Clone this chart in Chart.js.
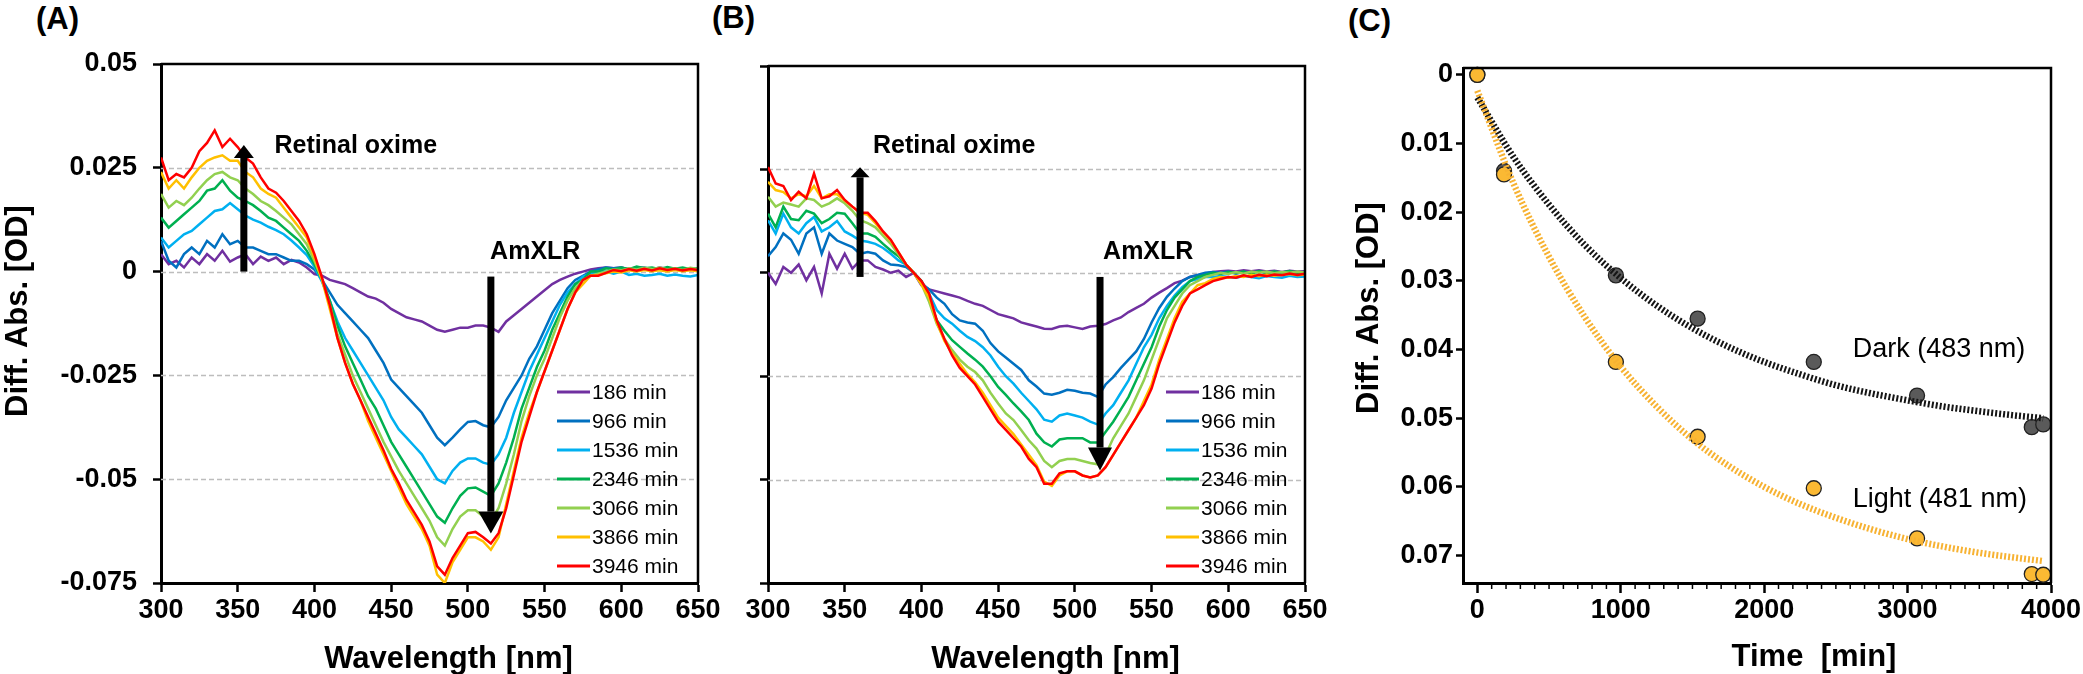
<!DOCTYPE html>
<html>
<head>
<meta charset="utf-8">
<script src="https://cdn.jsdelivr.net/npm/chart.js@4.4.1/dist/chart.umd.min.js"></script>
<style>
  body { margin: 0; background: #fff; width: 2083px; height: 674px; overflow: hidden; position: relative; }
  canvas { position: absolute; top: 0; }
  .tag { position: absolute; font: bold 31px "Liberation Sans", Arial, sans-serif; line-height: 31px; color: #000; }
</style>
</head>
<body>
<div class="tag" style="left:36px;top:3px">(A)</div>
<div class="tag" style="left:712px;top:2px">(B)</div>
<div class="tag" style="left:1348px;top:5px">(C)</div>
<canvas id="chartA" width="730" height="674" style="left:0px"></canvas>
<canvas id="chartB" width="600" height="674" style="left:730px"></canvas>
<canvas id="chartC" width="753" height="674" style="left:1330px"></canvas>
<script>
// ---- data ----
const wavelengths = [300, 305, 310, 315, 320, 325, 330, 335, 340, 345, 350, 355, 360, 365, 370, 375, 380, 385, 390, 395,
  400, 405, 410, 415, 420, 425, 430, 435, 440, 445, 450, 455, 460, 465, 470, 475, 480, 485, 490, 495,
  500, 505, 510, 515, 520, 525, 530, 535, 540, 545, 550, 555, 560, 565, 570, 575, 580, 585, 590, 595,
  600, 605, 610, 615, 620, 625, 630, 635, 640, 645, 650];

const seriesLabels = ['186 min', '966 min', '1536 min', '2346 min', '3066 min', '3866 min', '3946 min'];
const seriesColors = ['#7030A0', '#0070C0', '#00B0F0', '#00B050', '#92D050', '#FFC000', '#FF0000'];

// panel A spectra
const a186 = [0.0042, 0.0018, 0.0026, 0.0010, 0.0034, 0.0018, 0.0042, 0.0026, 0.0050, 0.0024, 0.0034, 0.0042, 0.0018, 0.0036, 0.0026, 0.0034, 0.0018, 0.0028, 0.0022, 0.0010,
  -0.0006, -0.0010, -0.0020, -0.0025, -0.0030, -0.0040, -0.0050, -0.0060, -0.0065, -0.0075, -0.0090, -0.0100, -0.0110, -0.0115, -0.0120, -0.0130, -0.0140, -0.0145, -0.0140, -0.0135,
  -0.0135, -0.0130, -0.0130, -0.0135, -0.0145, -0.0120, -0.0105, -0.0090, -0.0075, -0.0060, -0.0045, -0.0030, -0.0020, -0.0012, -0.0005, 0.0000, 0.0005, 0.0008, 0.0010, 0.0008,
  0.0010, 0.0006, 0.0010, 0.0008, 0.0005, 0.0010, 0.0007, 0.0005, 0.0008, 0.0004, 0.0006];
const a966 = [0.0074, 0.0026, 0.0010, 0.0042, 0.0058, 0.0042, 0.0074, 0.0058, 0.0090, 0.0066, 0.0074, 0.0058, 0.0058, 0.0050, 0.0042, 0.0042, 0.0034, 0.0026, 0.0026, 0.0018,
  0.0005, -0.0020, -0.0050, -0.0080, -0.0100, -0.0120, -0.0140, -0.0160, -0.0190, -0.0220, -0.0260, -0.0280, -0.0300, -0.0320, -0.0340, -0.0370, -0.0400, -0.0418, -0.0400, -0.0380,
  -0.0362, -0.0360, -0.0370, -0.0375, -0.0350, -0.0310, -0.0280, -0.0250, -0.0210, -0.0180, -0.0140, -0.0100, -0.0070, -0.0040, -0.0020, -0.0010, 0.0000, 0.0005, 0.0010, 0.0008,
  0.0010, 0.0005, 0.0008, 0.0010, 0.0005, 0.0008, 0.0004, 0.0008, 0.0005, 0.0006, 0.0002];
const a1536 = [0.0082, 0.0058, 0.0074, 0.0090, 0.0098, 0.0114, 0.0130, 0.0146, 0.0150, 0.0165, 0.0150, 0.0135, 0.0125, 0.0118, 0.0108, 0.0100, 0.0090, 0.0075, 0.0058, 0.0040,
  0.0012, -0.0025, -0.0070, -0.0120, -0.0160, -0.0190, -0.0220, -0.0250, -0.0280, -0.0310, -0.0350, -0.0380, -0.0400, -0.0420, -0.0440, -0.0470, -0.0500, -0.0510, -0.0480, -0.0460,
  -0.0450, -0.0450, -0.0460, -0.0465, -0.0440, -0.0400, -0.0340, -0.0290, -0.0240, -0.0200, -0.0160, -0.0120, -0.0080, -0.0050, -0.0030, -0.0012, -0.0005, 0.0000, 0.0000, -0.0005,
  0.0000, -0.0008, -0.0005, -0.0010, -0.0008, -0.0005, -0.0010, -0.0007, -0.0010, -0.0012, -0.0008];
const a2346 = [0.0130, 0.0106, 0.0122, 0.0138, 0.0154, 0.0170, 0.0195, 0.0200, 0.0220, 0.0195, 0.0178, 0.0170, 0.0160, 0.0146, 0.0130, 0.0122, 0.0106, 0.0090, 0.0074, 0.0050,
  0.0018, -0.0020, -0.0070, -0.0130, -0.0180, -0.0220, -0.0260, -0.0300, -0.0330, -0.0370, -0.0410, -0.0440, -0.0470, -0.0500, -0.0530, -0.0560, -0.0590, -0.0605, -0.0570, -0.0540,
  -0.0522, -0.0520, -0.0530, -0.0540, -0.0510, -0.0460, -0.0400, -0.0330, -0.0280, -0.0230, -0.0190, -0.0140, -0.0100, -0.0060, -0.0030, -0.0020, 0.0000, 0.0000, 0.0008, 0.0005,
  0.0010, 0.0006, 0.0012, 0.0008, 0.0010, 0.0006, 0.0011, 0.0007, 0.0010, 0.0006, 0.0008];
const a3066 = [0.0187, 0.0154, 0.0170, 0.0160, 0.0178, 0.0200, 0.0220, 0.0235, 0.0240, 0.0227, 0.0220, 0.0200, 0.0187, 0.0170, 0.0160, 0.0146, 0.0130, 0.0114, 0.0090, 0.0066,
  0.0026, -0.0020, -0.0080, -0.0150, -0.0200, -0.0250, -0.0290, -0.0330, -0.0370, -0.0410, -0.0445, -0.0480, -0.0510, -0.0540, -0.0570, -0.0600, -0.0640, -0.0660, -0.0620, -0.0590,
  -0.0575, -0.0575, -0.0590, -0.0600, -0.0570, -0.0510, -0.0440, -0.0360, -0.0300, -0.0250, -0.0210, -0.0160, -0.0110, -0.0070, -0.0040, -0.0020, -0.0010, -0.0005, 0.0000, 0.0005,
  0.0003, 0.0008, 0.0005, 0.0009, 0.0006, 0.0010, 0.0005, 0.0008, 0.0004, 0.0009, 0.0006];
const a3866 = [0.0240, 0.0200, 0.0220, 0.0200, 0.0227, 0.0250, 0.0267, 0.0275, 0.0280, 0.0267, 0.0267, 0.0240, 0.0227, 0.0200, 0.0187, 0.0178, 0.0154, 0.0130, 0.0106, 0.0082,
  0.0034, -0.0020, -0.0090, -0.0160, -0.0220, -0.0270, -0.0310, -0.0360, -0.0400, -0.0440, -0.0480, -0.0520, -0.0560, -0.0590, -0.0620, -0.0660, -0.0730, -0.0750, -0.0700, -0.0670,
  -0.0640, -0.0640, -0.0650, -0.0670, -0.0640, -0.0560, -0.0480, -0.0400, -0.0340, -0.0290, -0.0240, -0.0190, -0.0140, -0.0090, -0.0050, -0.0030, -0.0010, -0.0008, -0.0004, 0.0000,
  -0.0002, 0.0003, 0.0000, 0.0004, 0.0001, 0.0003, 0.0000, 0.0004, 0.0001, 0.0003, 0.0001];
const a3946 = [0.0275, 0.0220, 0.0235, 0.0227, 0.0250, 0.0290, 0.0310, 0.0340, 0.0300, 0.0320, 0.0300, 0.0275, 0.0260, 0.0227, 0.0200, 0.0190, 0.0170, 0.0146, 0.0122, 0.0090,
  0.0042, -0.0015, -0.0080, -0.0160, -0.0220, -0.0270, -0.0310, -0.0350, -0.0390, -0.0430, -0.0475, -0.0510, -0.0550, -0.0580, -0.0610, -0.0650, -0.0710, -0.0730, -0.0690, -0.0660,
  -0.0630, -0.0627, -0.0640, -0.0655, -0.0630, -0.0570, -0.0490, -0.0410, -0.0350, -0.0290, -0.0240, -0.0190, -0.0140, -0.0090, -0.0050, -0.0020, -0.0010, -0.0010, -0.0003, 0.0004,
  0.0001, 0.0006, 0.0002, 0.0007, 0.0003, 0.0008, 0.0004, 0.0007, 0.0003, 0.0006, 0.0004];

// panel B spectra
const b186 = [0.0000, -0.0027, 0.0014, 0.0000, 0.0020, -0.0018, 0.0014, -0.0050, 0.0046, 0.0010, 0.0046, 0.0010, 0.0030, 0.0030, 0.0014, 0.0008, 0.0000, 0.0005, -0.0010, 0.0000,
  -0.0030, -0.0040, -0.0045, -0.0050, -0.0055, -0.0060, -0.0068, -0.0075, -0.0080, -0.0090, -0.0100, -0.0105, -0.0110, -0.0120, -0.0125, -0.0130, -0.0135, -0.0136, -0.0130, -0.0128,
  -0.0132, -0.0136, -0.0130, -0.0128, -0.0124, -0.0115, -0.0108, -0.0095, -0.0085, -0.0075, -0.0060, -0.0048, -0.0037, -0.0025, -0.0019, -0.0010, -0.0006, -0.0002, 0.0002, 0.0004,
  0.0005, 0.0003, 0.0006, 0.0004, 0.0006, 0.0003, 0.0005, 0.0002, 0.0005, 0.0003, 0.0004];
const b966 = [0.0040, 0.0062, 0.0095, 0.0080, 0.0046, 0.0095, 0.0110, 0.0046, 0.0095, 0.0078, 0.0070, 0.0062, 0.0046, 0.0050, 0.0046, 0.0030, 0.0020, 0.0018, 0.0014, 0.0000,
  -0.0025, -0.0040, -0.0060, -0.0075, -0.0100, -0.0115, -0.0120, -0.0123, -0.0140, -0.0170, -0.0190, -0.0205, -0.0220, -0.0235, -0.0260, -0.0275, -0.0292, -0.0295, -0.0290, -0.0283,
  -0.0285, -0.0290, -0.0292, -0.0300, -0.0270, -0.0252, -0.0230, -0.0210, -0.0190, -0.0160, -0.0120, -0.0085, -0.0058, -0.0038, -0.0020, -0.0010, -0.0005, 0.0000, 0.0002, 0.0000,
  0.0003, -0.0002, 0.0002, 0.0000, 0.0003, -0.0001, 0.0002, 0.0000, 0.0002, -0.0001, 0.0001];
const b1536 = [0.0127, 0.0095, 0.0143, 0.0110, 0.0095, 0.0120, 0.0135, 0.0100, 0.0110, 0.0125, 0.0100, 0.0090, 0.0078, 0.0075, 0.0070, 0.0060, 0.0046, 0.0030, 0.0020, 0.0000,
  -0.0020, -0.0050, -0.0090, -0.0110, -0.0123, -0.0140, -0.0155, -0.0165, -0.0180, -0.0200, -0.0227, -0.0250, -0.0268, -0.0290, -0.0310, -0.0330, -0.0355, -0.0360, -0.0345, -0.0340,
  -0.0345, -0.0350, -0.0360, -0.0367, -0.0340, -0.0320, -0.0290, -0.0260, -0.0220, -0.0180, -0.0150, -0.0110, -0.0080, -0.0055, -0.0035, -0.0020, -0.0015, -0.0010, -0.0010, -0.0008,
  -0.0010, -0.0012, -0.0008, -0.0010, -0.0013, -0.0008, -0.0010, -0.0012, -0.0007, -0.0010, -0.0009];
const b2346 = [0.0143, 0.0110, 0.0160, 0.0130, 0.0127, 0.0150, 0.0143, 0.0120, 0.0130, 0.0145, 0.0143, 0.0120, 0.0095, 0.0095, 0.0087, 0.0070, 0.0054, 0.0040, 0.0020, 0.0000,
  -0.0020, -0.0060, -0.0115, -0.0140, -0.0163, -0.0179, -0.0195, -0.0210, -0.0227, -0.0250, -0.0276, -0.0295, -0.0316, -0.0335, -0.0356, -0.0389, -0.0410, -0.0420, -0.0403, -0.0400,
  -0.0400, -0.0400, -0.0410, -0.0410, -0.0385, -0.0360, -0.0330, -0.0300, -0.0260, -0.0220, -0.0180, -0.0130, -0.0090, -0.0060, -0.0040, -0.0020, -0.0010, -0.0005, 0.0000, -0.0003,
  0.0002, 0.0000, 0.0003, -0.0002, 0.0004, 0.0000, 0.0003, 0.0001, 0.0004, 0.0000, 0.0002];
const b3066 = [0.0184, 0.0160, 0.0170, 0.0165, 0.0160, 0.0180, 0.0176, 0.0160, 0.0168, 0.0180, 0.0168, 0.0150, 0.0127, 0.0120, 0.0110, 0.0090, 0.0070, 0.0045, 0.0020, 0.0000,
  -0.0027, -0.0070, -0.0123, -0.0160, -0.0187, -0.0210, -0.0227, -0.0240, -0.0260, -0.0290, -0.0316, -0.0340, -0.0356, -0.0380, -0.0405, -0.0425, -0.0455, -0.0470, -0.0455, -0.0450,
  -0.0450, -0.0455, -0.0460, -0.0463, -0.0440, -0.0400, -0.0370, -0.0340, -0.0300, -0.0260, -0.0210, -0.0160, -0.0110, -0.0080, -0.0050, -0.0030, -0.0020, -0.0010, -0.0005, 0.0000,
  -0.0003, 0.0002, -0.0002, 0.0003, 0.0000, 0.0003, -0.0001, 0.0002, 0.0000, 0.0003, 0.0001];
const b3866 = [0.0220, 0.0200, 0.0195, 0.0180, 0.0190, 0.0185, 0.0210, 0.0180, 0.0190, 0.0190, 0.0175, 0.0160, 0.0145, 0.0140, 0.0120, 0.0098, 0.0078, 0.0050, 0.0020, 0.0000,
  -0.0028, -0.0060, -0.0120, -0.0165, -0.0195, -0.0220, -0.0245, -0.0265, -0.0290, -0.0320, -0.0350, -0.0370, -0.0390, -0.0415, -0.0440, -0.0465, -0.0505, -0.0515, -0.0490, -0.0480,
  -0.0480, -0.0490, -0.0495, -0.0490, -0.0470, -0.0440, -0.0410, -0.0380, -0.0350, -0.0310, -0.0270, -0.0210, -0.0160, -0.0110, -0.0070, -0.0050, -0.0030, -0.0025, -0.0015, -0.0010,
  -0.0012, -0.0008, -0.0010, -0.0005, -0.0008, -0.0004, -0.0007, -0.0005, -0.0003, -0.0006, -0.0004];
const b3946 = [0.0256, 0.0216, 0.0210, 0.0176, 0.0196, 0.0180, 0.0240, 0.0180, 0.0185, 0.0200, 0.0176, 0.0160, 0.0145, 0.0145, 0.0125, 0.0100, 0.0080, 0.0050, 0.0020, 0.0000,
  -0.0020, -0.0050, -0.0115, -0.0160, -0.0200, -0.0230, -0.0250, -0.0270, -0.0300, -0.0330, -0.0360, -0.0380, -0.0400, -0.0420, -0.0450, -0.0470, -0.0510, -0.0510, -0.0485, -0.0480,
  -0.0480, -0.0490, -0.0495, -0.0490, -0.0470, -0.0440, -0.0410, -0.0380, -0.0350, -0.0320, -0.0280, -0.0220, -0.0170, -0.0120, -0.0080, -0.0050, -0.0040, -0.0030, -0.0020, -0.0015,
  -0.0010, -0.0012, -0.0006, -0.0010, -0.0005, -0.0008, -0.0004, -0.0006, -0.0002, -0.0005, -0.0002];

// panel C: kinetics
const timePoints = [0, 186, 966, 1536, 2346, 3066, 3866, 3946];
const darkValues = [0.0000, 0.0140, 0.0292, 0.0355, 0.0418, 0.0467, 0.0513, 0.0509];
const lightValues = [0.0000, 0.0145, 0.0418, 0.0527, 0.0602, 0.0675, 0.0727, 0.0728];
const fitTimes = [0, 250, 500, 750, 1000, 1250, 1500, 1750, 2000, 2250, 2500, 2750, 3000, 3250, 3500, 3750, 3946];
const darkFit = [0.0033, 0.0119, 0.0189, 0.0248, 0.0296, 0.0336, 0.0369, 0.0396, 0.0418, 0.0436, 0.0452, 0.0464, 0.0474, 0.0483, 0.0490, 0.0496, 0.0500];
const lightFit = [0.0023, 0.0157, 0.0265, 0.0353, 0.0425, 0.0483, 0.0531, 0.0569, 0.0600, 0.0625, 0.0645, 0.0662, 0.0676, 0.0687, 0.0696, 0.0703, 0.0708];

// ticks
const xTicksAB = [300, 350, 400, 450, 500, 550, 600, 650];
const yTicksAB = [-0.075, -0.05, -0.025, 0, 0.025, 0.05];
const yTickLabelsAB = ['-0.075', '-0.05', '-0.025', '0', '0.025', '0.05'];
const gridAB = [-0.05, -0.025, 0, 0.025];
const xTicksC = [0, 1000, 2000, 3000, 4000];
const yTicksC = [0, 0.01, 0.02, 0.03, 0.04, 0.05, 0.06, 0.07];
const yTickLabelsC = ['0', '0.01', '0.02', '0.03', '0.04', '0.05', '0.06', '0.07'];

// ---- drawing ----
const FONT = '"Liberation Sans", Arial, Helvetica, sans-serif';
Chart.defaults.font.family = FONT;
Chart.defaults.color = '#000';

const decor = {
  chartA: {
    grid: gridAB,
    legend: { x: 557, y: 392 },
    notes: [{ text: 'Retinal oxime', x: 374, y: 0.0303 }, { text: 'AmXLR', x: 514.5, y: 0.0047 }],
    arrows: [{ x: 354, from: 0, to: 0.0305, w: 20, len: 13 }, { x: 515, from: -0.0012, to: -0.0631, w: 25, len: 22 }],
    xTitle: { text: 'Wavelength [nm]', dx: 19, y: 668 },
    yTitle: { text: 'Diff. Abs. [OD]', x: 27, y: 311 }
  },
  chartB: {
    grid: gridAB,
    legend: { x: 436, y: 392 },
    notes: [{ text: 'Retinal oxime', x: 368.4, y: 0.0307 }, { text: 'AmXLR', x: 518.4, y: 0.0049 }],
    arrows: [{ x: 360, from: -0.001, to: 0.0255, w: 19, len: 10 }, { x: 516.4, from: -0.001, to: -0.0478, w: 24, len: 23 }],
    xTitle: { text: 'Wavelength [nm]', dx: 19, y: 668 }
  },
  chartC: {
    labels: [{ text: 'Dark (483 nm)', x: 2618, y: 0.0411 }, { text: 'Light (481 nm)', x: 2618, y: 0.0629 }],
    minorTicks: true,
    xTitle: { text: 'Time  [min]', dx: 57, y: 666 },
    yTitle: { text: 'Diff. Abs. [OD]', x: 48, y: 308 }
  }
};

function drawArrow(ctx, x, yTail, yTip, w, len) {
  const dir = yTip < yTail ? 1 : -1;
  const base = yTip + dir * len;
  ctx.fillRect(x - 3.5, Math.min(yTail, base), 7, Math.abs(yTail - base));
  ctx.beginPath();
  ctx.moveTo(x, yTip);
  ctx.lineTo(x - w / 2, base);
  ctx.lineTo(x + w / 2, base);
  ctx.closePath();
  ctx.fill();
}

const deco = {
  id: 'deco',
  beforeDatasetsDraw(chart) {
    const o = decor[chart.canvas.id];
    if (!o.grid) return;
    const { ctx, chartArea: a } = chart;
    const y = chart.scales.y;
    ctx.save();
    ctx.strokeStyle = '#BDBDBD';
    ctx.lineWidth = 1.3;
    ctx.setLineDash([5, 3]);
    o.grid.forEach(v => {
      const py = Math.round(y.getPixelForValue(v)) + 0.5;
      ctx.beginPath(); ctx.moveTo(a.left, py); ctx.lineTo(a.right, py); ctx.stroke();
    });
    ctx.restore();
  },
  afterDraw(chart) {
    const o = decor[chart.canvas.id];
    const { ctx, chartArea: a } = chart;
    const xs = chart.scales.x, ys = chart.scales.y;
    ctx.save();
    // top and right frame
    ctx.strokeStyle = '#000';
    ctx.lineWidth = 2.5;
    ctx.beginPath();
    ctx.moveTo(a.left, a.top); ctx.lineTo(a.right, a.top); ctx.lineTo(a.right, a.bottom);
    ctx.stroke();

    if (o.minorTicks) {
      ctx.lineWidth = 1.5;
      for (let t = 100; t < 4000; t += 100) {
        if (t % 1000 === 0) continue;
        const px = xs.getPixelForValue(t);
        ctx.beginPath(); ctx.moveTo(px, a.bottom); ctx.lineTo(px, a.bottom + 6); ctx.stroke();
      }
    }

    ctx.fillStyle = '#000';
    (o.arrows || []).forEach(ar => {
      drawArrow(ctx, xs.getPixelForValue(ar.x), ys.getPixelForValue(ar.from), ys.getPixelForValue(ar.to), ar.w, ar.len);
    });

    ctx.textAlign = 'left';
    ctx.textBaseline = 'middle';
    ctx.font = 'bold 25px ' + FONT;
    (o.notes || []).forEach(n => {
      ctx.fillText(n.text, xs.getPixelForValue(n.x), ys.getPixelForValue(n.y));
    });

    ctx.textBaseline = 'alphabetic';
    ctx.font = '27px ' + FONT;
    (o.labels || []).forEach(n => {
      ctx.fillText(n.text, xs.getPixelForValue(n.x), ys.getPixelForValue(n.y));
    });

    if (o.legend) {
      ctx.font = '21px ' + FONT;
      ctx.textBaseline = 'middle';
      chart.data.datasets.forEach((ds, i) => {
        const yy = o.legend.y + i * 29;
        ctx.strokeStyle = ds.borderColor;
        ctx.lineWidth = 3;
        ctx.beginPath(); ctx.moveTo(o.legend.x, yy); ctx.lineTo(o.legend.x + 33, yy); ctx.stroke();
        ctx.fillStyle = '#000';
        ctx.fillText(ds.label, o.legend.x + 35, yy + 1);
      });
    }

    ctx.font = 'bold 31px ' + FONT;
    ctx.textAlign = 'center';
    ctx.textBaseline = 'alphabetic';
    if (o.xTitle) {
      ctx.fillText(o.xTitle.text, (a.left + a.right) / 2 + o.xTitle.dx, o.xTitle.y);
    }
    if (o.yTitle) {
      ctx.translate(o.yTitle.x, o.yTitle.y);
      ctx.rotate(-Math.PI / 2);
      ctx.fillText(o.yTitle.text, 0, 0);
    }
    ctx.restore();
  }
};

const tickFont = { size: 27, weight: 'bold' };

function spectrumChart(id, spectra, cfg) {
  return new Chart(document.getElementById(id), {
    type: 'line',
    data: {
      datasets: spectra.map((vals, i) => ({
        label: seriesLabels[i],
        data: wavelengths.map((w, j) => ({ x: w, y: vals[j] })),
        borderColor: seriesColors[i],
        borderWidth: 2.5,
        pointRadius: 0,
        tension: 0,
        order: spectra.length - i
      }))
    },
    options: {
      responsive: false,
      animation: false,
      events: [],
      layout: { padding: { top: cfg.top, right: cfg.right, left: 0, bottom: 0 } },
      plugins: { legend: { display: false }, tooltip: { enabled: false } },
      scales: {
        x: {
          type: 'linear', min: 300, max: 650,
          afterBuildTicks: s => { s.ticks = xTicksAB.map(v => ({ value: v })); },
          afterFit: s => { s.height = 91; },
          grid: { drawOnChartArea: false, tickLength: 9, tickWidth: 2.5, tickColor: '#000' },
          border: { color: '#000', width: 3 },
          ticks: { font: tickFont, padding: 2, autoSkip: false, maxRotation: 0, callback: v => String(v) }
        },
        y: {
          type: 'linear', min: -0.075, max: 0.05,
          afterBuildTicks: s => { s.ticks = yTicksAB.map(v => ({ value: v })); },
          afterFit: s => { s.width = cfg.yWidth; },
          grid: { drawOnChartArea: false, tickLength: 8, tickWidth: 2.5, tickColor: '#000' },
          border: { color: '#000', width: 3 },
          ticks: { font: tickFont, padding: 16, autoSkip: false,
                   callback: (v, i) => cfg.yLabels ? yTickLabelsAB[i] : '' }
        }
      }
    },
    plugins: [deco]
  });
}

spectrumChart('chartA', [a186, a966, a1536, a2346, a3066, a3866, a3946], { top: 64, right: 32, yWidth: 161, yLabels: true });
spectrumChart('chartB', [b186, b966, b1536, b2346, b3066, b3866, b3946], { top: 66, right: 25, yWidth: 38, yLabels: false });

new Chart(document.getElementById('chartC'), {
  type: 'scatter',
  data: {
    datasets: [
      { label: 'Light fit', showLine: true, data: fitTimes.map((t, i) => ({ x: t, y: lightFit[i] })),
        borderColor: '#F7B232', borderWidth: 6.5, borderDash: [2, 2], pointRadius: 0, cubicInterpolationMode: 'monotone', order: 0 },
      { label: 'Dark fit', showLine: true, data: fitTimes.map((t, i) => ({ x: t, y: darkFit[i] })),
        borderColor: '#151515', borderWidth: 6.5, borderDash: [2, 2], pointRadius: 0, cubicInterpolationMode: 'monotone', order: 1 },
      { label: 'Light (481 nm)', data: timePoints.map((t, i) => ({ x: t, y: lightValues[i] })),
        backgroundColor: '#FBB933', borderColor: '#222', borderWidth: 1.3, pointRadius: 7.5, clip: false, order: 2 },
      { label: 'Dark (483 nm)', data: timePoints.map((t, i) => ({ x: t, y: darkValues[i] })),
        backgroundColor: '#5A5A5A', borderColor: '#222', borderWidth: 1.3, pointRadius: 7.5, clip: false, order: 3 }
    ]
  },
  options: {
    responsive: false,
    animation: false,
    events: [],
    layout: { padding: { top: 68, right: 32, left: 0, bottom: 0 } },
    plugins: { legend: { display: false }, tooltip: { enabled: false } },
    scales: {
      x: {
        type: 'linear', min: -100, max: 4000,
        afterBuildTicks: s => { s.ticks = xTicksC.map(v => ({ value: v })); },
        afterFit: s => { s.height = 91; },
        grid: { drawOnChartArea: false, tickLength: 10, tickWidth: 2.5, tickColor: '#000' },
        border: { color: '#000', width: 3 },
        ticks: { font: tickFont, padding: 1, autoSkip: false, maxRotation: 0, callback: v => String(v) }
      },
      y: {
        type: 'linear', min: -0.001, max: 0.074, reverse: true,
        afterBuildTicks: s => { s.ticks = yTicksC.map(v => ({ value: v })); },
        afterFit: s => { s.width = 133; },
        grid: { drawOnChartArea: false, tickLength: 7, tickWidth: 2.5, tickColor: '#000' },
        border: { color: '#000', width: 3 },
        ticks: { font: tickFont, padding: 3, autoSkip: false, callback: (v, i) => yTickLabelsC[i] }
      }
    }
  },
  plugins: [deco]
});
</script>
</body>
</html>
